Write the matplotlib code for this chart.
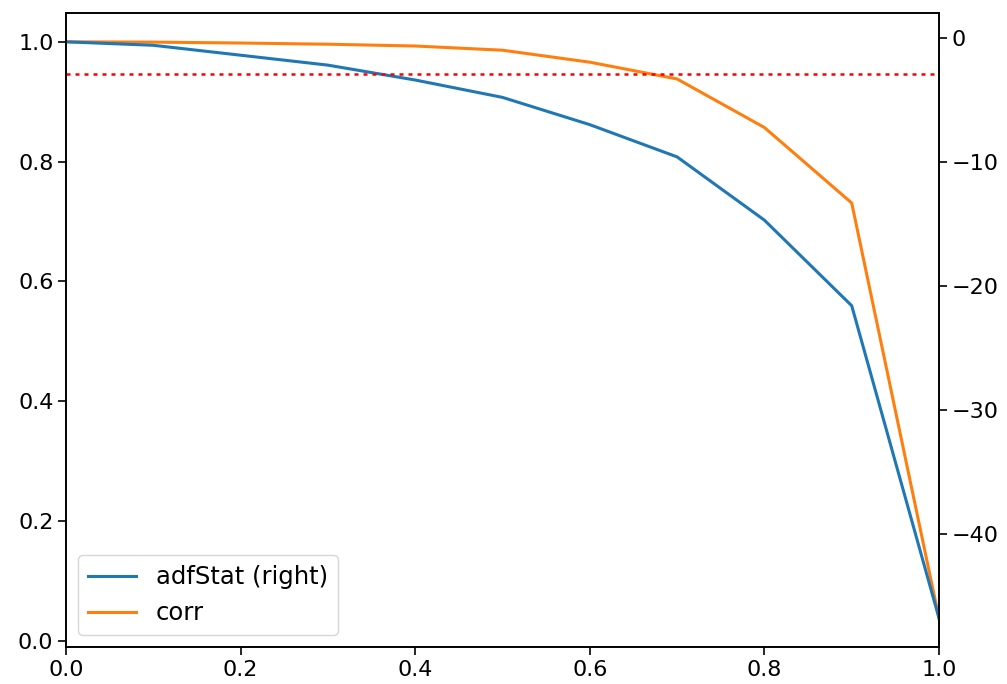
import numpy as np
import matplotlib.pyplot as plt

d = [0.0, 0.1, 0.2, 0.3, 0.4, 0.5, 0.6, 0.7, 0.8, 0.9, 1.0]
adfStat = [-0.32, -0.6, -1.4, -2.2, -3.4, -4.8, -7.0, -9.6, -14.7, -21.6, -46.8]
corr = [1.0, 0.9995, 0.998, 0.996, 0.993, 0.986, 0.966, 0.938, 0.857, 0.731, 0.038]
crit_95 = -2.9

plt.rcParams['font.size'] = 16
plt.rcParams['axes.linewidth'] = 1.2
plt.rcParams['xtick.major.size'] = 5.5
plt.rcParams['ytick.major.size'] = 5.5
plt.rcParams['xtick.major.width'] = 1.2
plt.rcParams['ytick.major.width'] = 1.2

fig = plt.figure(figsize=(10.07, 6.84), dpi=100)
ax = fig.add_axes([0.0655, 0.054, 0.867, 0.927])
ax2 = ax.twinx()

l1, = ax2.plot(d, adfStat, color='C0', lw=2.2, label='adfStat (right)')
l2, = ax.plot(d, corr, color='C1', lw=2.2, label='corr')
ax2.axhline(crit_95, linewidth=1.8, color='r', linestyle=(0, (1.6, 2.0)))

ax.set_xlim(0, 1)
ax.legend([l1, l2], ['adfStat (right)', 'corr'], loc='lower left', fontsize=17.5)

plt.savefig('out.png')
